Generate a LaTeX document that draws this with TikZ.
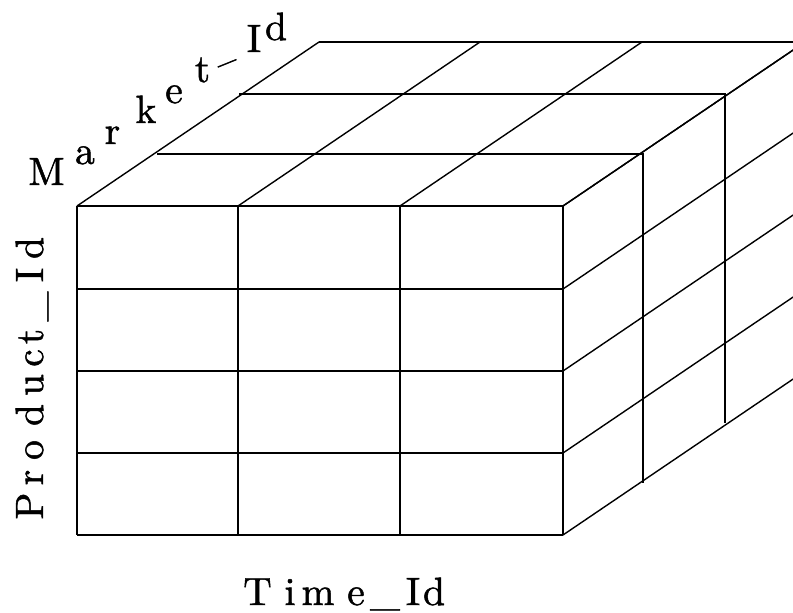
\documentclass[tikz,border=0pt]{standalone}
\usepackage{fontspec}
\newfontfamily\labfont{Latin Modern Roman}[FakeBold=1.2]
\begin{document}
\begin{tikzpicture}[x=1pt,y=-1pt,
  grid/.style={line width=1.4pt, black},
  lbl/.style={font=\labfont\fontsize{10}{12}\selectfont, inner sep=0pt, anchor=base, scale=3.95, transform shape}]
\useasboundingbox (0,0) rectangle (793,613);
\begin{scope}
\clip (0,0) rectangle (793,613);
% front face
\foreach \x in {77,238,400,563} \draw[grid] (\x,206) -- (\x,535);
\foreach \y in {206,289,371,453,535} \draw[grid] (77,\y) -- (563,\y);
% top face diagonals
\foreach \x in {77,238,400,563} \draw[grid] (\x,206) -- ++(242,-164);
% right face diagonals
\foreach \y in {206,289,371,453,535} \draw[grid] (563,\y) -- ++(242,-164);
% deeper layers: top edge and right edge
\foreach \dx/\dy in {80/-52,162/-112,242/-164}
  \draw[grid] ({77+\dx},{206+\dy}) -- ({563+\dx},{206+\dy}) -- ({563+\dx},{535+\dy});
\end{scope}
% Time_Id
\foreach \c/\x [count=\i] in {T/257.5,i/290,m/318,e/356,\_/385,I/413,d/434}
  \node[lbl] (t\i) at (\x,605) {\c};
% Product_Id
\foreach \c/\y [count=\i] in {P/506,r/477.5,o/450,d/415,u/385,c/358,t/336.5,\_/306.5,I/275,d/248}
  \node[lbl, rotate=90] (p\i) at (43,\y) {\c};
% Market-Id
\foreach \c/\x/\y [count=\i] in {M/46.5/185,a/85/164,r/112.5/144,k/146/123,e/174/103,t/202.5/82,I/254/52,d/276/40}
  \node[lbl] (m\i) at (\x,\y) {\c};
\node[lbl, anchor=center, rotate=22] (mdash) at (229,68) {\textendash};
\end{tikzpicture}
\end{document}
